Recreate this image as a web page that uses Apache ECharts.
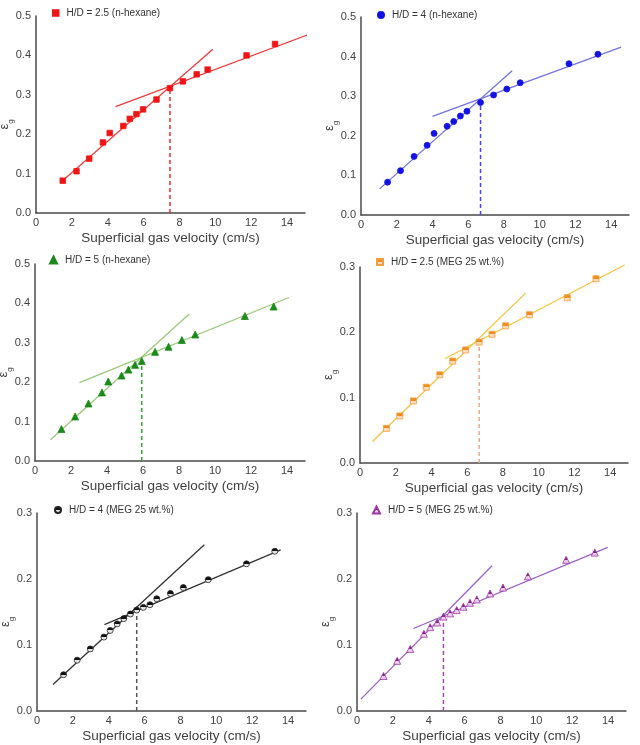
<!DOCTYPE html>
<html>
<head>
<meta charset="utf-8">
<script src="https://cdn.jsdelivr.net/npm/echarts@6/dist/echarts.min.js"></script>
<style>
html,body{margin:0;padding:0;background:#fff;}
#c{width:640px;height:745px;}
</style>
</head>
<body>
<div id="c"></div>
<script>
// ---- Data ----
const names = [
  'H/D = 2.5 (n-hexane)', 'H/D = 4 (n-hexane)', 'H/D = 5 (n-hexane)',
  'H/D = 2.5 (MEG 25 wt.%)', 'H/D = 4 (MEG 25 wt.%)', 'H/D = 5 (MEG 25 wt.%)'
];
const yMax = [0.5, 0.5, 0.5, 0.3, 0.3, 0.3];

// Panel 1: H/D = 2.5 (n-hexane)
const x1 = [1.49, 2.26, 2.97, 3.73, 4.11, 4.87, 5.23, 5.60, 5.97, 6.72, 7.47, 8.19, 8.96, 9.57, 11.74, 13.33];
const y1 = [0.082, 0.106, 0.138, 0.179, 0.203, 0.221, 0.239, 0.251, 0.263, 0.288, 0.317, 0.334, 0.352, 0.364, 0.400, 0.429];
const fitLow1 = [[1.40, 0.0785], [9.86, 0.4155]];
const fitHigh1 = [[4.44, 0.270], [15.55, 0.459]];
const trans1 = [7.47, 0.320];

// Panel 2: H/D = 4 (n-hexane)
const x2 = [1.49, 2.21, 2.97, 3.70, 4.09, 4.82, 5.19, 5.56, 5.93, 6.69, 7.42, 8.16, 8.91, 11.64, 13.26];
const y2 = [0.083, 0.112, 0.148, 0.176, 0.206, 0.224, 0.236, 0.250, 0.262, 0.284, 0.303, 0.318, 0.334, 0.382, 0.406];
const fitLow2 = [[1.04, 0.066], [8.46, 0.364]];
const fitHigh2 = [[4.00, 0.249], [14.56, 0.424]];
const trans2 = [6.69, 0.294];

// Panel 3: H/D = 5 (n-hexane)
const x3 = [1.47, 2.23, 2.97, 3.72, 4.07, 4.81, 5.19, 5.56, 5.93, 6.67, 7.42, 8.16, 8.90, 11.66, 13.26];
const y3 = [0.081, 0.113, 0.146, 0.174, 0.202, 0.217, 0.232, 0.244, 0.254, 0.277, 0.290, 0.307, 0.321, 0.368, 0.392];
const fitLow3 = [[0.86, 0.054], [8.57, 0.373]];
const fitHigh3 = [[2.47, 0.199], [14.11, 0.415]];
const trans3 = [5.93, 0.263];

// Panel 4: H/D = 2.5 (MEG 25 wt.%)
const x4 = [1.48, 2.23, 2.99, 3.71, 4.47, 5.19, 5.91, 6.67, 7.39, 8.15, 9.48, 11.60, 13.21];
const y4 = [0.053, 0.072, 0.095, 0.116, 0.135, 0.156, 0.173, 0.185, 0.197, 0.210, 0.227, 0.253, 0.282];
const fitLow4 = [[0.70, 0.033], [9.27, 0.260]];
const fitHigh4 = [[4.77, 0.160], [14.81, 0.303]];
const trans4 = [6.67, 0.189];

// Panel 5: H/D = 4 (MEG 25 wt.%)
const x5 = [1.48, 2.24, 2.97, 3.73, 4.08, 4.47, 4.84, 5.21, 5.56, 5.93, 6.30, 6.68, 7.44, 8.16, 9.55, 11.68, 13.26];
const y5 = [0.055, 0.077, 0.094, 0.112, 0.122, 0.132, 0.140, 0.147, 0.153, 0.157, 0.161, 0.170, 0.178, 0.187, 0.199, 0.223, 0.242];
const fitLow5 = [[0.89, 0.040], [9.33, 0.252]];
const fitHigh5 = [[3.76, 0.131], [13.59, 0.244]];
const trans5 = [5.56, 0.154];

// Panel 6: H/D = 5 (MEG 25 wt.%)
const x6 = [1.48, 2.24, 2.97, 3.73, 4.08, 4.47, 4.82, 5.19, 5.56, 5.93, 6.30, 6.68, 7.42, 8.14, 9.53, 11.66, 13.26];
const y6 = [0.053, 0.076, 0.094, 0.117, 0.127, 0.134, 0.143, 0.148, 0.153, 0.158, 0.164, 0.169, 0.178, 0.187, 0.204, 0.229, 0.240];
const fitLow6 = [[0.22, 0.018], [7.53, 0.220]];
const fitHigh6 = [[3.15, 0.125], [13.98, 0.248]];
const trans6 = [4.82, 0.144];

const xs = [x1, x2, x3, x4, x5, x6];
const ys = [y1, y2, y3, y4, y5, y6];
const fitLows = [fitLow1, fitLow2, fitLow3, fitLow4, fitLow5, fitLow6];
const fitHighs = [fitHigh1, fitHigh2, fitHigh3, fitHigh4, fitHigh5, fitHigh6];
const transitions = [trans1, trans2, trans3, trans4, trans5, trans6];

// ---- Styling ----
function half(top, bottom) {
  return {type: 'linear', x: 0, y: 0, x2: 0, y2: 1, colorStops: [
    {offset: 0, color: top}, {offset: 0.5, color: top},
    {offset: 0.5, color: bottom}, {offset: 1, color: bottom}]};
}
const styles = [
  {symbol: 'rect', size: 5.5, fill: '#f01414', border: '#f01414', line: '#ee3c3c', dash: '#ee2a2a'},
  {symbol: 'circle', size: 6, fill: '#1212e6', border: '#1212e6', line: '#7272e2', dash: '#4444ea'},
  {symbol: 'triangle', size: 7, fill: '#1a8a1a', border: '#1a8a1a', line: '#9cc878', dash: '#2ea82e'},
  {symbol: 'rect', size: 6, fill: half('#f08c20', '#fcdcb8'), border: '#f0a040', line: '#f7c23c', dash: '#f2a882'},
  {symbol: 'circle', size: 6, fill: half('#111111', '#e4e4e4'), border: '#222222', line: '#333333', dash: '#555555'},
  {symbol: 'triangle', size: 7, fill: half('#8a2090', '#ecccee'), border: '#9a3aa0', line: '#9a62c8', dash: '#a544b4'}
];
const grids = [
  {left: 36, top: 16, width: 269, height: 197},
  {left: 361, top: 17, width: 268, height: 198},
  {left: 35, top: 264, width: 270, height: 197},
  {left: 360, top: 267, width: 268, height: 196},
  {left: 37, top: 513, width: 269, height: 198},
  {left: 357, top: 513, width: 269, height: 198}
];
const legendPos = [
  {left: 52, top: 8}, {left: 377, top: 10}, {left: 49, top: 255},
  {left: 376, top: 257}, {left: 54, top: 505}, {left: 372, top: 505}
];

const axisColor = '#4a4a4a';
const textColor = '#404040';
const font = 'Liberation Sans, Arial, sans-serif';

const option = {
  animation: false,
  backgroundColor: '#fff',
  grid: grids.map(g => Object.assign({containLabel: false, outerBoundsMode: 'none'}, g)),
  legend: names.map((n, i) => ({
    data: [n], left: legendPos[i].left, top: legendPos[i].top, padding: 0,
    itemWidth: styles[i].size, itemHeight: styles[i].size, itemGap: 5,
    textStyle: {fontSize: 10, color: '#333', fontFamily: font, padding: [0, 0, 0, 3]}
  })),
  xAxis: names.map((n, i) => ({
    gridIndex: i, type: 'value', min: 0, max: 15, interval: 2,
    name: 'Superficial gas velocity (cm/s)', nameLocation: 'middle', nameGap: 18,
    nameMoveOverlap: false,
    nameTextStyle: {fontSize: 13.5, color: textColor, fontFamily: font},
    axisLine: {show: true, onZero: false, lineStyle: {color: axisColor, width: 1.5}},
    axisTick: {show: false}, splitLine: {show: false},
    axisLabel: {fontSize: 11, color: textColor, fontFamily: font, margin: 4, showMaxLabel: false}
  })),
  yAxis: names.map((n, i) => ({
    gridIndex: i, type: 'value', min: 0, max: yMax[i], interval: 0.1,
    name: '{e|ε}{g|g}', nameLocation: 'middle', nameGap: 21, nameRotate: 90,
    nameMoveOverlap: false,
    nameTextStyle: {color: textColor, fontFamily: font, padding: [0, 0, 0, -20], rich: {
      e: {fontSize: 13, color: textColor, fontFamily: font, verticalAlign: 'top', padding: [0, 0, 4, 0]},
      g: {fontSize: 8, color: textColor, fontFamily: font, verticalAlign: 'bottom'}
    }},
    axisLine: {show: true, onZero: false, lineStyle: {color: axisColor, width: 1.5}},
    axisTick: {show: false}, splitLine: {show: false},
    axisLabel: {fontSize: 11, color: textColor, fontFamily: font, margin: 5,
      formatter: v => v.toFixed(1)}
  })),
  series: []
};

names.forEach((n, i) => {
  const s = styles[i];
  option.series.push({
    type: 'line', xAxisIndex: i, yAxisIndex: i, data: fitLows[i], showSymbol: false, symbol: 'none',
    clip: false, silent: true, lineStyle: {color: s.line, width: 1.3}, z: 2
  });
  option.series.push({
    type: 'line', xAxisIndex: i, yAxisIndex: i, data: fitHighs[i], showSymbol: false, symbol: 'none',
    clip: false, silent: true, lineStyle: {color: s.line, width: 1.3}, z: 2
  });
  option.series.push({
    type: 'line', xAxisIndex: i, yAxisIndex: i,
    data: [[transitions[i][0], 0], [transitions[i][0], transitions[i][1]]],
    showSymbol: false, symbol: 'none', silent: true,
    lineStyle: {color: s.dash, width: 1.5, type: [4, 3]}, z: 2
  });
  option.series.push({
    name: n, type: 'scatter', xAxisIndex: i, yAxisIndex: i,
    data: xs[i].map((x, k) => [x, ys[i][k]]),
    symbol: s.symbol, symbolSize: s.size,
    itemStyle: {color: s.fill, borderColor: s.border, borderWidth: 0.8, opacity: 1}, z: 3
  });
});

const chart = echarts.init(document.getElementById('c'), null, {renderer: 'canvas'});
chart.setOption(option);
</script>
</body>
</html>
